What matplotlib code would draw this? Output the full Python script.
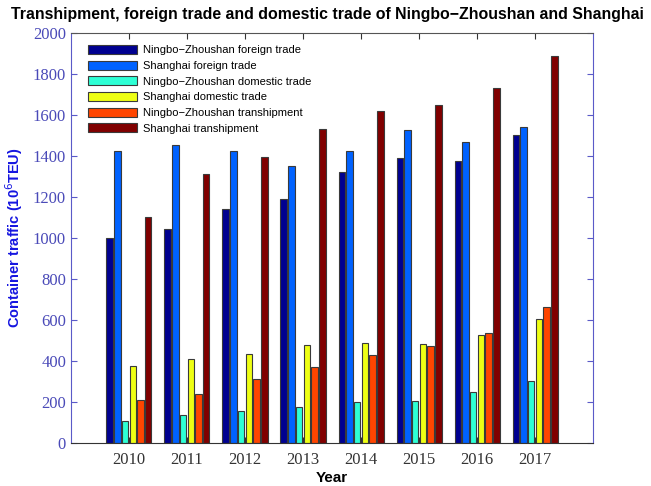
import matplotlib
matplotlib.use("Agg")
import matplotlib.pyplot as plt
import numpy as np

years = [2010, 2011, 2012, 2013, 2014, 2015, 2016, 2017]
nz_foreign = [1000, 1045, 1143, 1192, 1320, 1388, 1375, 1503]
sh_foreign = [1424, 1455, 1424, 1352, 1424, 1527, 1468, 1540]
nz_domestic = [107, 137, 156, 175, 198, 207, 251, 303]
sh_domestic = [376, 410, 434, 478, 488, 483, 527, 607]
nz_tranship = [208, 238, 313, 371, 430, 472, 537, 662]
sh_tranship = [1102, 1310, 1395, 1532, 1620, 1649, 1732, 1888]

series = [nz_foreign, sh_foreign, nz_domestic, sh_domestic, nz_tranship, sh_tranship]
labels = ["Ningbo\u2212Zhoushan foreign trade", "Shanghai foreign trade",
          "Ningbo\u2212Zhoushan domestic trade", "Shanghai domestic trade",
          "Ningbo\u2212Zhoushan transhipment", "Shanghai transhipment"]
colors = ["#000090", "#0062FF", "#2EFFD5", "#EEFF14", "#FF4500", "#800000"]

fig = plt.figure(figsize=(6.51, 4.86), dpi=100)
ax = fig.add_axes([0.109, 0.0885, 0.802, 0.8435])

n = len(series)
pitch = 0.8 / n
width = pitch * 0.82
x = np.array(years, dtype=float)
for i, (vals, lab, c) in enumerate(zip(series, labels, colors)):
    offs = (i - (n - 1) / 2) * pitch
    ax.bar(x + offs, vals, width=width, color=c, edgecolor="#3a3a3a",
           linewidth=0.8, label=lab)

ax.set_xlim(2009, 2018)
ax.set_ylim(0, 2000)
ax.set_xticks(years)
ax.set_yticks(np.arange(0, 2001, 200))

blue_ax = "#5a5ac8"
ax.tick_params(axis="both", direction="in", top=True, right=True, length=4)
ax.tick_params(axis="y", colors=blue_ax, labelcolor="#4a4ab8")
ax.tick_params(axis="x", colors="#333333", labelcolor="#333333", pad=6.5)
for lab in ax.get_xticklabels() + ax.get_yticklabels():
    lab.set_fontfamily("Liberation Serif")
    lab.set_fontsize(12)
ax.spines["left"].set_color(blue_ax)
ax.spines["right"].set_color(blue_ax)
ax.spines["top"].set_color("#555555")
ax.spines["bottom"].set_color("#333333")

ax.set_xlabel("Year", fontsize=11, fontweight="bold", family="Liberation Sans", labelpad=2)
ax.set_ylabel("Container traffic (10$^6$TEU)", fontsize=10.5, fontweight="bold",
              family="Liberation Sans", color="#1515E0", labelpad=6)
fig.text(0.503, 0.97, "Transhipment, foreign trade and domestic trade of Ningbo\u2212Zhoushan and Shanghai",
         ha="center", va="center", fontsize=11.4, fontweight="bold", family="Liberation Sans")

leg = ax.legend(loc="upper left", bbox_to_anchor=(0.018, 0.99), frameon=False,
                prop={"family": "Liberation Sans", "size": 8},
                handlelength=4.4, handleheight=0.9, labelspacing=0.47,
                handletextpad=0.5, borderaxespad=0.3)

fig.savefig("out.png", dpi=100)
